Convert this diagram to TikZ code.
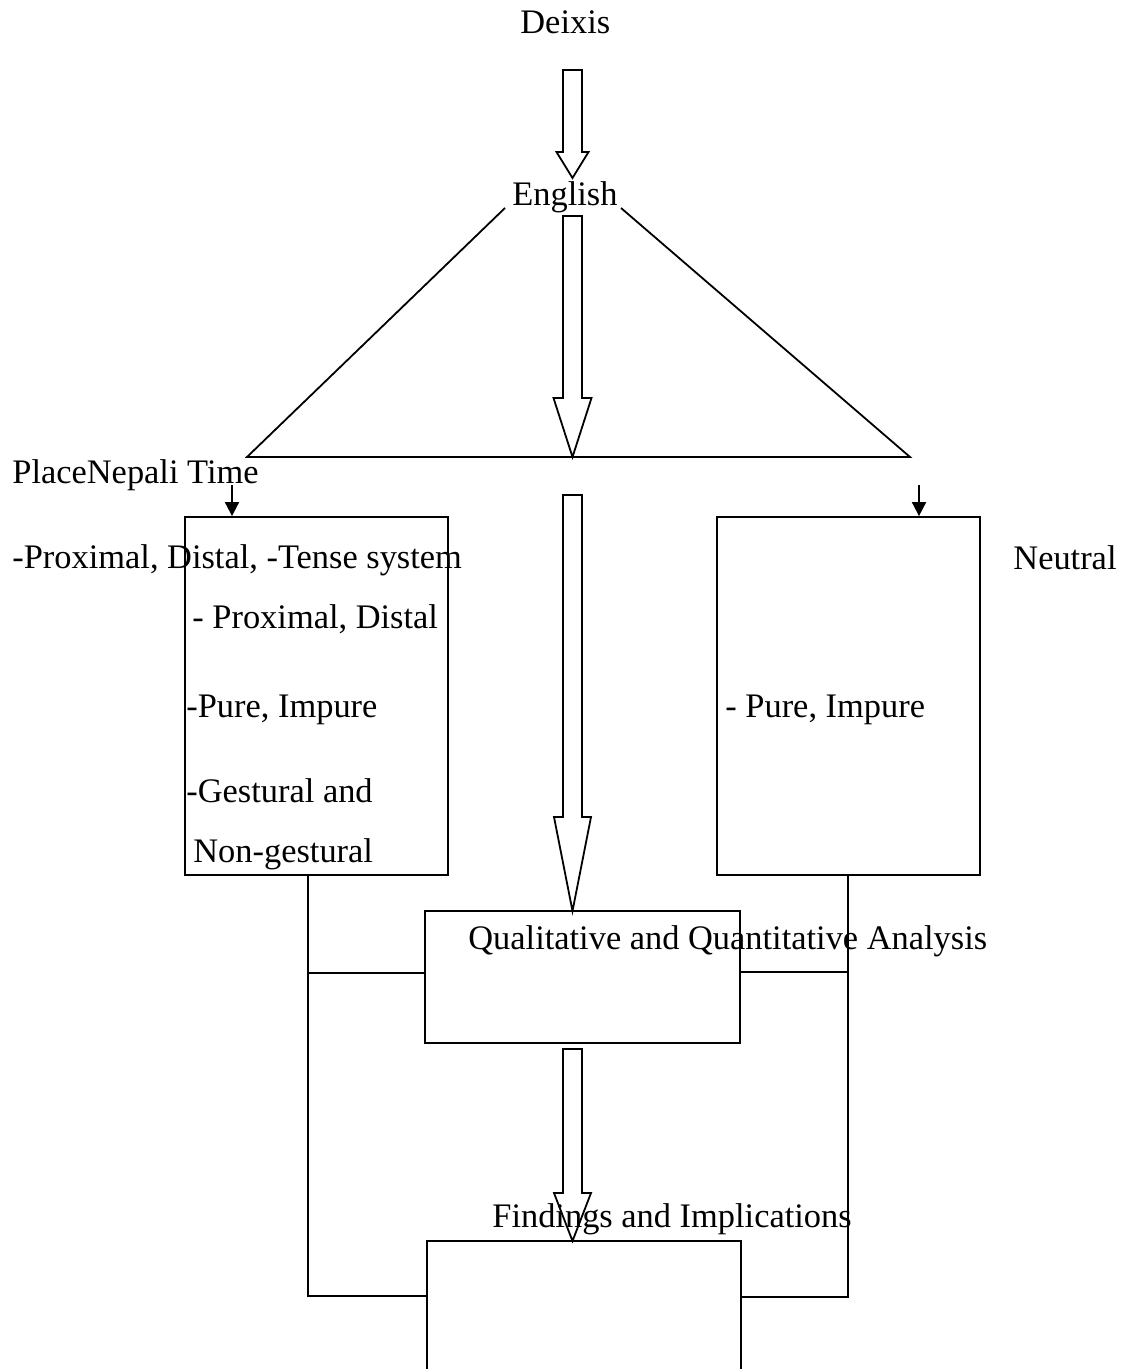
\documentclass[tikz,border=0pt]{standalone}
\usepackage{fontspec}
\setmainfont{Liberation Serif}
\usetikzlibrary{arrows.meta}
\begin{document}
\begin{tikzpicture}[x=0.5pt,y=-0.5pt,
  every node/.style={font=\fontsize{17.2pt}{20pt}\selectfont},
  lbl/.style={anchor=base west,inner sep=0pt},
  box/.style={draw,line width=0.9pt,inner sep=0pt},
  ln/.style={line width=0.9pt},
  thinarrow/.style={line width=0.9pt,-{Triangle[width=7pt,length=7pt]}},
  blockarr/.style={draw,line width=0.9pt,fill=white,line join=miter}]
\useasboundingbox[fill=white] (0,0) rectangle (1125,1369);
% block arrow: centre x, top, head start, tip, head half width
\newcommand{\blkarrow}[5]{%
  \path[blockarr] (#1-9.5,#2) -- (#1+9.5,#2) -- (#1+9.5,#3) -- (#1+#5,#3)
    -- (#1,#4) -- (#1-#5,#3) -- (#1-9.5,#3) -- cycle;}
% texts
\node[lbl] (deixis) at (520,34) {Deixis};
% triangle
\coordinate (tl) at (505,208);
\coordinate (tr) at (621,208);
\coordinate (bl) at (247,457);
\coordinate (br) at (910,457);
\draw[ln,line join=miter] (tl) -- (bl) -- (br) -- (tr);
\node[lbl] (english) at (512,206) {English};
% boxes
\node[box,minimum width=131.5pt,minimum height=179pt] (lbox) at (316.5,696) {};
\node[box,minimum width=131.5pt,minimum height=179pt] (rbox) at (848.5,696) {};
\node[box,minimum width=157.5pt,minimum height=66pt] (qbox) at (582.5,977) {};
\node[box,minimum width=157pt,minimum height=80pt] (fbox) at (584,1321) {};
% block arrows
\blkarrow{572.5}{70}{152}{178}{16}
\blkarrow{572.5}{216}{398}{457}{19}
\blkarrow{572.5}{495}{817}{911}{18.5}
\blkarrow{572.5}{1049}{1193}{1241}{18.5}
% labels
\node[lbl] (place) at (12,483) {PlaceNepali Time};
\node[lbl] (prox) at (12,568) {-Proximal, Distal, -Tense system};
\node[lbl] (prox2) at (192,628) {- Proximal, Distal};
\node[lbl] (pure) at (186,717) {-Pure, Impure};
\node[lbl] (gest) at (186,802) {-Gestural and};
\node[lbl] (nong) at (193,862) {Non-gestural};
\node[lbl] (neutral) at (1013,569) {Neutral};
\node[lbl] (pure2) at (725,717) {- Pure, Impure};
\node[lbl] (qual) at (468,949) {Qualitative and Quantitative Analysis};
\node[lbl] (find) at (492,1227) {Findings and Implications};
% small arrows
\coordinate (la) at (232,485);
\coordinate (ra) at (919,485);
\draw[thinarrow] (la) -- (la |- lbox.north);
\draw[thinarrow] (ra) -- (ra |- rbox.north);
% connectors
\coordinate (lv1) at (308,875);
\coordinate (lv2) at (308,973);
\coordinate (lv3) at (308,1296);
\coordinate (rv1) at (848,875);
\coordinate (rv2) at (848,972);
\coordinate (rv3) at (848,1297);
\draw[ln] (lv1) -- (lv3) -- (lv3 -| fbox.west);
\draw[ln] (lv2) -- (lv2 -| qbox.west);
\draw[ln] (rv1) -- (rv3) -- (rv3 -| fbox.east);
\draw[ln] (rv2) -- (rv2 -| qbox.east);
\end{tikzpicture}
\end{document}
